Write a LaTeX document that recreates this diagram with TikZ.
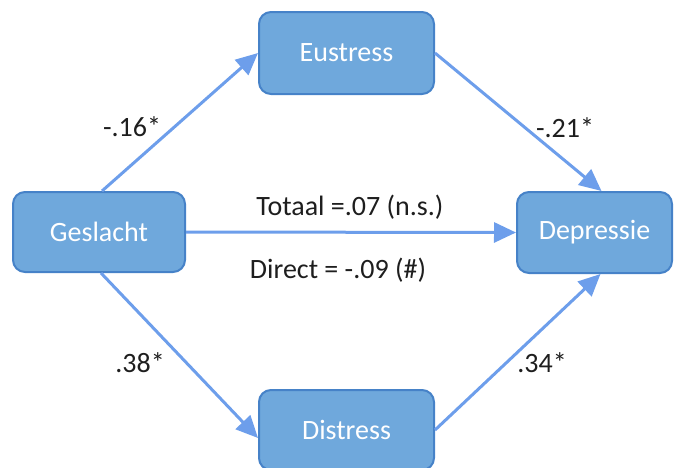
\documentclass[tikz,border=0pt]{standalone}
\usepackage{fontspec}
\setmainfont{Carlito}
\usetikzlibrary{arrows.meta}
\definecolor{boxfill}{RGB}{111,168,220}
\definecolor{boxline}{RGB}{70,130,200}
\definecolor{arrowc}{RGB}{109,158,235}
\definecolor{labc}{RGB}{30,30,30}
\tikzset{
  varbox/.style={draw=boxline, line width=2pt, fill=boxfill, rounded corners=12pt,
    text=white, font=\fontsize{28}{32}\selectfont, inner sep=0pt},
  conn/.style={draw=arrowc, line width=3pt, -{Triangle[length=22pt,width=20pt]}, shorten >=0pt},
  lab/.style={text=labc, font=\fontsize{28}{32}\selectfont, inner sep=0pt}
}
\begin{document}
\begin{tikzpicture}[x=1pt,y=-1pt]
\useasboundingbox (0,0) rectangle (680,467);
\node[varbox, minimum width=172pt, minimum height=80pt] (g) at (99,232) {Geslacht};
\node[varbox, minimum width=175pt, minimum height=82pt] (e) at (346.5,53) {Eustress};
\node[varbox, minimum width=175pt, minimum height=80pt] (s) at (346.5,430) {Distress};
\node[varbox, minimum width=155pt, minimum height=81pt] (d) at (594.5,232.5) {Depressie};
\draw[conn] ([xshift=3pt]g.north) -- (e.west);
\draw[conn] (e.east) -- ([xshift=7pt]d.north);
\draw[conn] ([xshift=2pt]g.south) -- ([yshift=-8pt]s.west);
\draw[conn] (s.east) -- ([xshift=6pt]d.south);
\draw[conn] (g.east) -- (d.west);
\node[lab] (l1) at (132,127) {-.16*};
\node[lab] (l2) at (565,128) {-.21*};
\node[lab] (l3) at (140,363) {.38*};
\node[lab] (l4) at (542,363) {.34*};
\node[lab] (tot) at (350,207) {Totaal =.07 (n.s.)};
\node[lab] (dir) at (338,270) {Direct = -.09 (\#)};
\end{tikzpicture}
\end{document}
